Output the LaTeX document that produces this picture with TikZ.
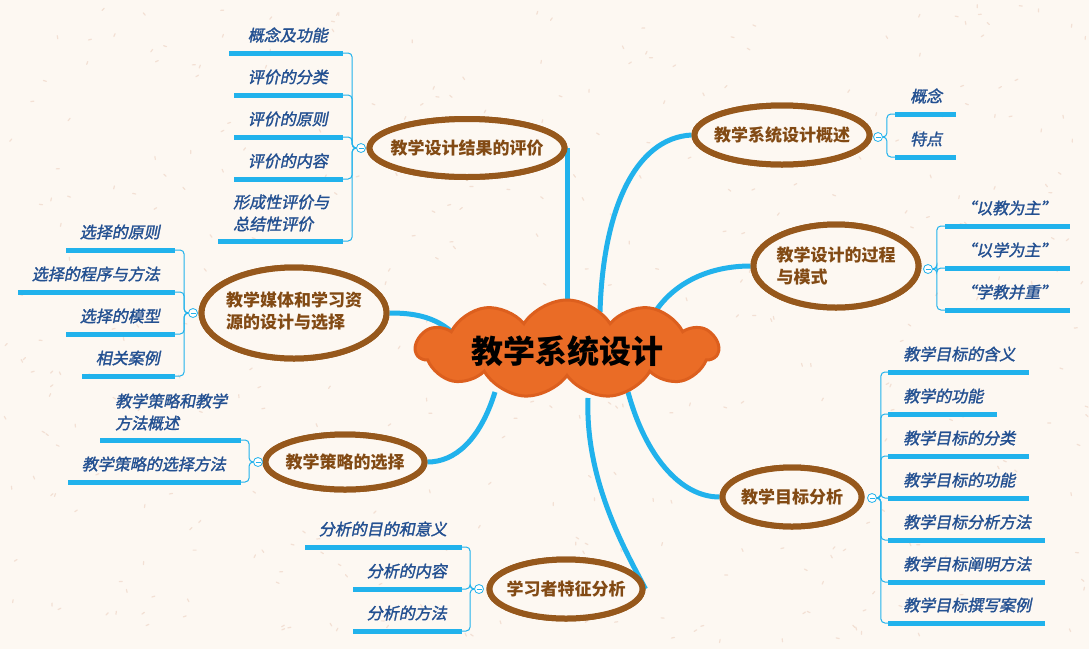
\documentclass[tikz,border=0pt]{standalone}
\usepackage{fontspec}
\usetikzlibrary{shapes.geometric,shapes.symbols,calc}
\newfontfamily\cjk{Noto Sans CJK SC}
\newfontfamily\cjkit{Noto Sans CJK SC}[FakeSlant=0.2,FakeBold=1.6]
\definecolor{bgc}{RGB}{253,248,242}
\definecolor{speck}{RGB}{243,224,212}
\definecolor{mainblue}{RGB}{33,178,236}
\definecolor{barblue}{RGB}{33,178,236}
\definecolor{ebrown}{RGB}{150,88,28}
\definecolor{tbrown}{RGB}{130,74,20}
\definecolor{lblue}{RGB}{35,80,145}
\definecolor{corange}{RGB}{234,108,38}
\definecolor{cdark}{RGB}{220,95,30}
\tikzset{
  main/.style={line width=5pt, draw=mainblue},
  topic/.style={ellipse, draw=ebrown, line width=6pt, fill=bgc, inner sep=0pt},
  ttext/.style={font=\cjk\bfseries\fontsize{17}{22}\selectfont, text=tbrown, align=left, inner sep=0pt},
  leafL/.style={font=\cjkit\fontsize{16}{22}\selectfont, text=lblue, anchor=east, inner sep=0pt, align=left},
  leafR/.style={font=\cjkit\fontsize{16}{22}\selectfont, text=lblue, anchor=west, inner sep=0pt, align=left},
  leafbar/.style={line width=5pt, draw=barblue},
  brk/.style={line width=1pt, draw=barblue, rounded corners=4pt},
  tog/.style={circle, draw=barblue, fill=white, line width=0.8pt, minimum size=9pt, inner sep=0pt},
  togminus/.style={draw=barblue, line width=0.8pt},
}
% left leaf: name, toggle, xleft, xright, y, text
\newcommand\lfL[6]{%
  \coordinate (#1l) at (#3,#5); \coordinate (#1r) at (#4,#5);
  \draw[leafbar] (#1l) -- (#1r);
  \node[leafL] (#1) at (#4-15,#5-18) {#6};
  \draw[brk] (#2.west) -- ++(-4,0) |- (#1r);
}
% left leaf, two lines, left aligned: name, toggle, xleft, xright, y, textx, text
\newcommand\lfLm[7]{%
  \coordinate (#1l) at (#3,#5); \coordinate (#1r) at (#4,#5);
  \draw[leafbar] (#1l) -- (#1r);
  \node[leafR] (#1) at (#6,#5-28) {#7};
  \draw[brk] (#2.west) -- ++(-4,0) |- (#1r);
}
\newcommand\lfR[6]{%
  \coordinate (#1l) at (#3,#5); \coordinate (#1r) at (#4,#5);
  \draw[leafbar] (#1l) -- (#1r);
  \node[leafR] (#1) at (#3+15,#5-18) {#6};
  \draw[brk] (#2.east) -- ++(4,0) |- (#1l);
}
\newcommand\togg[3]{%
  \node[tog] (#1) at (#2,#3) {};
  \draw[togminus] ([xshift=-2.5pt]#1.center) -- ([xshift=2.5pt]#1.center);
}
\begin{document}
\begin{tikzpicture}[x=1pt,y=-1pt]
\useasboundingbox (0,0) rectangle (1089,649);
\fill[bgc] (0,0) rectangle (1089,649);
\pgfmathsetseed{12}
\foreach \i in {1,...,420}{
  \pgfmathsetmacro\sx{rnd*1089}
  \pgfmathsetmacro\sy{rnd*649}
  \pgfmathsetmacro\sa{rnd*180}
  \draw[speck, line width=1.2pt, line cap=round] (\sx,\sy) -- ++(\sa:3);
}

% topic ellipses (nodes first, for connector anchors)
\node[topic, minimum width=195pt, minimum height=58pt] (t1) at (467,148) {};
\node[topic, minimum width=175pt, minimum height=59pt] (t2) at (782,135) {};
\node[topic, minimum width=165pt, minimum height=83pt] (t3) at (836,266) {};
\node[topic, minimum width=139pt, minimum height=59pt] (t4) at (792,497) {};
\node[topic, minimum width=153pt, minimum height=59pt] (t5) at (566,589) {};
\node[topic, minimum width=159pt, minimum height=55pt] (t6) at (345,462) {};
\node[topic, minimum width=185pt, minimum height=91pt] (t7) at (294,313) {};

% cloud exit points
\coordinate (r1) at (567,352);
\coordinate (r2) at (600,312);
\coordinate (r3) at (655,312);
\coordinate (r4) at (628,392);
\coordinate (r5) at (588,398);
\coordinate (r6) at (495,392);
\coordinate (r7) at (455,335);

% main connectors
\draw[main] (t1.east) -- (t1.east |- r1);
\draw[main] (r2) .. controls (603,210) and (635,138) .. (t2.west);
\draw[main] (r3) .. controls (675,282) and (710,266) .. (t3.west);
\draw[main] (r4) .. controls (645,455) and (680,497) .. (t4.west);
\draw[main] (r5) .. controls (585,480) and (625,550) .. (t5.east);
\draw[main] (r6) .. controls (480,440) and (455,462) .. (t6.east);
\draw[main] (r7) .. controls (435,315) and (410,313) .. (t7.east);

% redraw ellipses over connector ends
\node[topic, minimum width=195pt, minimum height=58pt] at (t1) {};
\node[topic, minimum width=175pt, minimum height=59pt] at (t2) {};
\node[topic, minimum width=165pt, minimum height=83pt] at (t3) {};
\node[topic, minimum width=139pt, minimum height=59pt] at (t4) {};
\node[topic, minimum width=153pt, minimum height=59pt] at (t5) {};
\node[topic, minimum width=159pt, minimum height=55pt] at (t6) {};
\node[topic, minimum width=185pt, minimum height=91pt] at (t7) {};

\node[ttext] (t1x) at (t1) {教学设计结果的评价};
\node[ttext] (t2x) at (t2) {教学系统设计概述};
\node[ttext] (t3x) at (t3) {教学设计的过程\\与模式};
\node[ttext] (t4x) at (t4) {教学目标分析};
\node[ttext] (t5x) at (t5) {学习者特征分析};
\node[ttext] (t6x) at (t6) {教学策略的选择};
\node[ttext] (t7x) at ([yshift=2pt]t7.center) {教学媒体和学习资\\源的设计与选择};

% central cloud
\node[cloud, cloud puffs=11, cloud puff arc=115, aspect=3.2, minimum width=302pt, minimum height=98pt,
      fill=corange, draw=cdark, line width=3pt, inner sep=0pt] (root) at (567,349) {};
\node[font=\cjk\bfseries\fontsize{32}{36}\selectfont, text=black, inner sep=0pt] (rootx) at (567,351) {教学系统设计};

% toggles
\togg{a0}{361}{148}
\togg{b0}{878}{137}
\togg{c0}{928}{269}
\togg{d0}{872}{498}
\togg{e0}{479}{589}
\togg{f0}{258}{462}
\togg{g0}{193}{313}

% branch A
\lfL{a1}{a0}{229}{343}{53}{概念及功能}
\lfL{a2}{a0}{234}{343}{95}{评价的分类}
\lfL{a3}{a0}{234}{343}{137}{评价的原则}
\lfL{a4}{a0}{234}{343}{179}{评价的内容}
\lfLm{a5}{a0}{218}{343}{241}{233}{形成性评价与\\总结性评价}

% branch B
\lfR{b1}{b0}{895}{956}{114}{概念}
\lfR{b2}{b0}{895}{956}{157}{特点}

% branch C
\lfR{c1}{c0}{945}{1070}{226}{“以教为主”}
\lfR{c2}{c0}{945}{1070}{268}{“以学为主”}
\lfR{c3}{c0}{945}{1070}{310}{“学教并重”}

% branch D
\lfR{d1}{d0}{888}{1029}{372}{教学目标的含义}
\lfR{d2}{d0}{888}{997}{414}{教学的功能}
\lfR{d3}{d0}{888}{1029}{456}{教学目标的分类}
\lfR{d4}{d0}{888}{1029}{498}{教学目标的功能}
\lfR{d5}{d0}{888}{1045}{540}{教学目标分析方法}
\lfR{d6}{d0}{888}{1045}{582}{教学目标阐明方法}
\lfR{d7}{d0}{888}{1045}{623}{教学目标撰写案例}

% branch E
\lfL{e1}{e0}{305}{462}{547}{分析的目的和意义}
\lfL{e2}{e0}{353}{462}{589}{分析的内容}
\lfL{e3}{e0}{353}{462}{631}{分析的方法}

% branch F
\lfLm{f1}{f0}{100}{241}{440}{115}{教学策略和教学\\方法概述}
\lfL{f2}{f0}{68}{241}{482}{教学策略的选择方法}

% branch G
\lfL{g1}{g0}{66}{175}{250}{选择的原则}
\lfL{g2}{g0}{18}{175}{292}{选择的程序与方法}
\lfL{g3}{g0}{66}{175}{334}{选择的模型}
\lfL{g4}{g0}{82}{175}{376}{相关案例}
\end{tikzpicture}
\end{document}
